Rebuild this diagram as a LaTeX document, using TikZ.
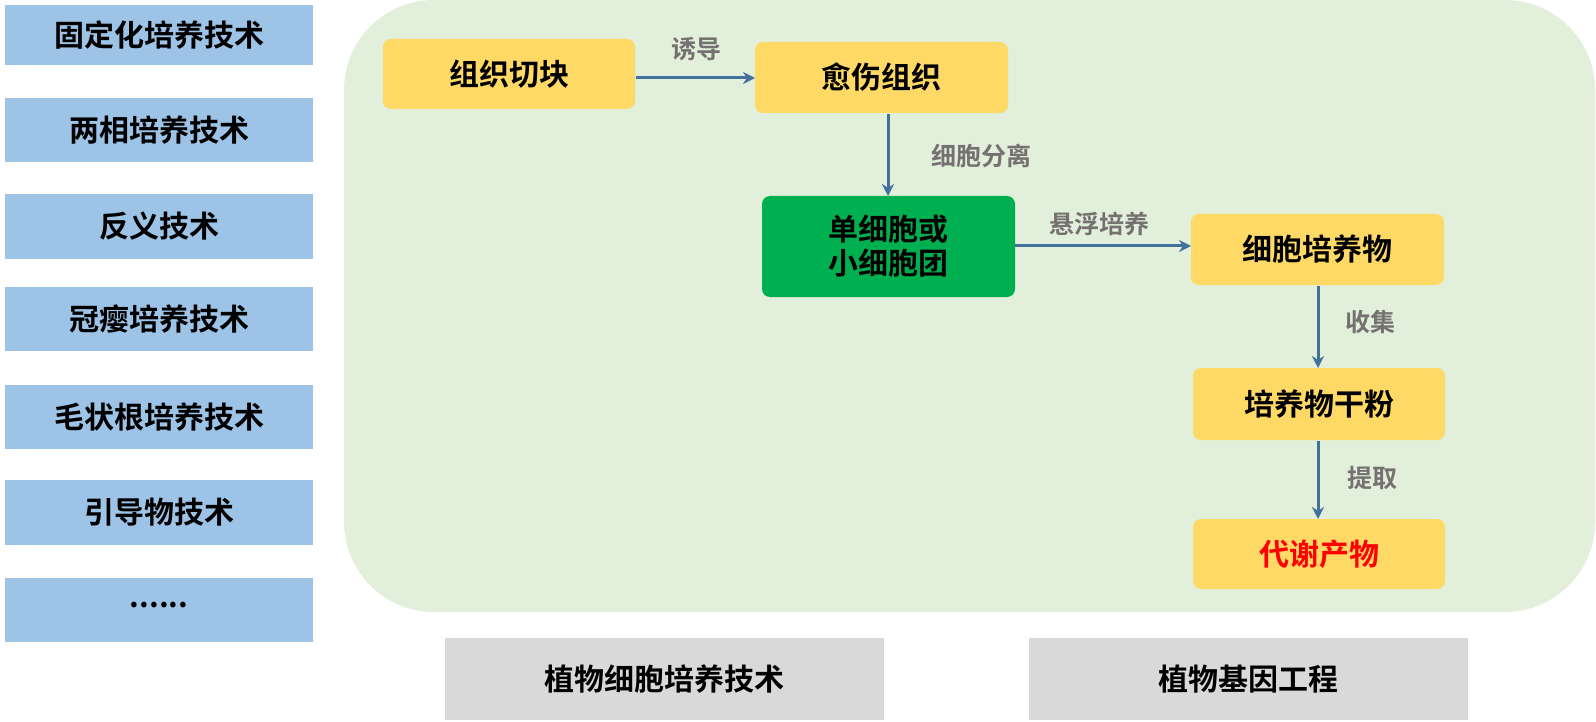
\documentclass[tikz,border=0pt]{standalone}
\usepackage{fontspec}
\usetikzlibrary{arrows.meta}
\newfontfamily\cjk{Noto Sans CJK SC}[BoldFont={Noto Sans CJK SC Bold}]
\begin{document}
\begin{tikzpicture}[x=1pt,y=-1pt,
  yb/.style={fill=ybcol,rounded corners=8pt},
  lab/.style={font=\cjk\bfseries\fontsize{30}{34}\selectfont,align=center},
  el/.style={font=\cjk\bfseries\fontsize{25}{28}\selectfont,text=elcol},
  arr/.style={draw=arrcol,line width=3pt,-{Stealth[length=12pt,width=12pt]}}]
\definecolor{sidecol}{HTML}{9DC3E6}
\definecolor{ybcol}{HTML}{FFD966}
\definecolor{grcol}{HTML}{00B050}
\definecolor{panel}{HTML}{E2EFDA}
\definecolor{graybox}{HTML}{D9D9D9}
\definecolor{arrcol}{HTML}{41719C}
\definecolor{elcol}{HTML}{767171}
\useasboundingbox (0,0) rectangle (1596,722);
\fill[panel,rounded corners=90pt] (344,0) rectangle (1595,612);
\foreach \t/\a/\b [count=\i] in {固定化培养技术/5/65,两相培养技术/98/162,反义技术/194/259,冠瘿培养技术/287/351,毛状根培养技术/385/449,引导物技术/480/545}{
  \fill[sidecol] (5,\a) rectangle (313,\b);
  \node[lab] (s\i) at (159,{(\a+\b)/2}) {\t};
}
\fill[sidecol] (5,578) rectangle (313,642);
\node[lab] (s7) at (159,605) {......};
\fill[graybox] (445,638) rectangle (884,720);
\node[lab] (g1) at (664,679) {植物细胞培养技术};
\fill[graybox] (1029,638) rectangle (1468,720);
\node[lab] (g2) at (1248,679) {植物基因工程};
\fill[yb] (383,39) rectangle (635,109); \node[lab] (a) at (509,74) {组织切块};
\fill[yb] (755,42) rectangle (1008,113); \node[lab] (b) at (881,77) {愈伤组织};
\fill[grcol,rounded corners=8pt] (762,196) rectangle (1015,297); \node[lab] (c) at (888,246) {单细胞或\\小细胞团};
\fill[yb] (1191,214) rectangle (1444,285); \node[lab] (d) at (1317,249) {细胞培养物};
\fill[yb] (1193,368) rectangle (1445,440); \node[lab] (e) at (1319,404) {培养物干粉};
\fill[yb] (1193,519) rectangle (1445,589); \node[lab,text=red] (f) at (1319,554) {代谢产物};
\coordinate (a1) at (636,78); \coordinate (b1) at (755,78);
\draw[arr] (a1) -- (b1);
\coordinate (b2) at (888,114); \coordinate (c2) at (888,196);
\draw[arr] (b2) -- (c2);
\coordinate (c3) at (1015,246); \coordinate (d3) at (1191,246);
\draw[arr] (c3) -- (d3);
\coordinate (d4) at (1318,286); \coordinate (e4) at (1318,368);
\draw[arr] (d4) -- (e4);
\coordinate (e5) at (1318,441); \coordinate (f5) at (1318,519);
\draw[arr] (e5) -- (f5);
\node[el] (l1) at (696,49) {诱导};
\node[el] (l2) at (981,156) {细胞分离};
\node[el] (l3) at (1099,224) {悬浮培养};
\node[el] (l4) at (1370,322) {收集};
\node[el] (l5) at (1372,478) {提取};
\end{tikzpicture}
\end{document}
